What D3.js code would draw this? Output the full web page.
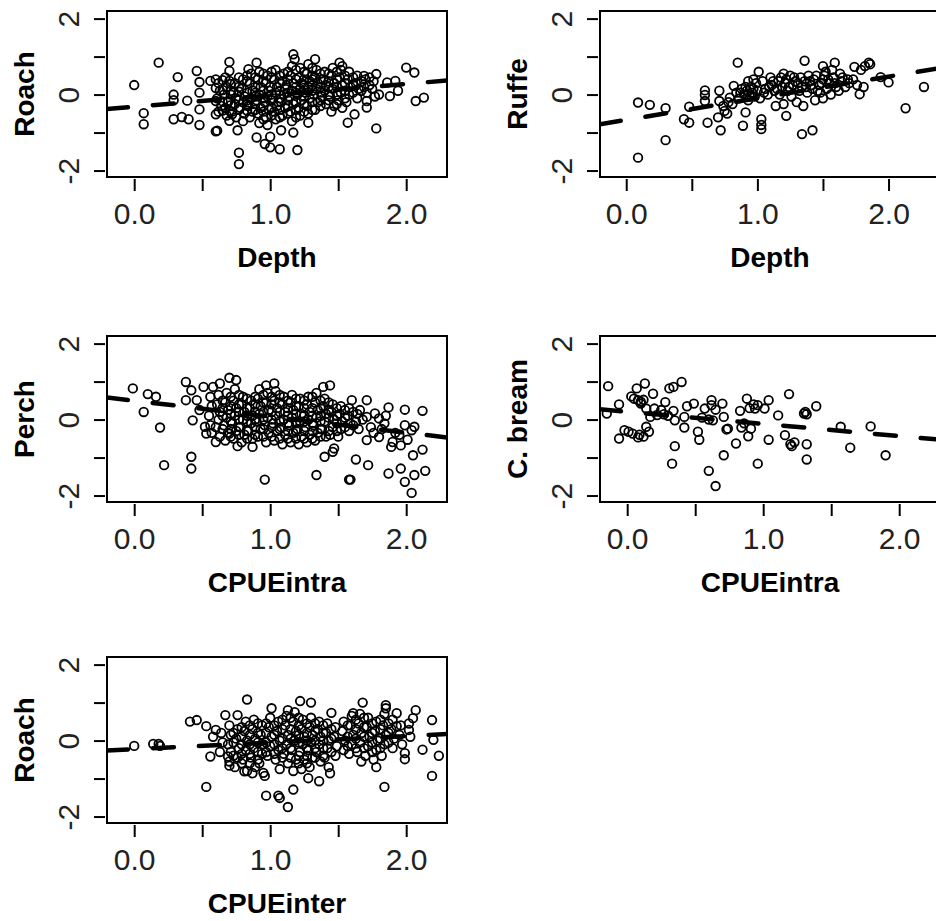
<!DOCTYPE html>
<html><head><meta charset="utf-8">
<script src="https://cdn.jsdelivr.net/npm/d3@7"></script>
<style>body{margin:0;background:#fff}</style>
</head><body><svg id="c" width="936" height="921"></svg>
<script>
// ---------- DATA ----------
const xTicks = [0, 0.5, 1, 1.5, 2];
const xTickLabels = ["0.0", "", "1.0", "", "2.0"];
const yTicks = [-2, -1, 0, 1, 2];
const yTickLabels = ["-2", "", "0", "", "2"];

const roachDepth = [
[0.0,0.25],[0.18,0.84],[0.07,-0.49],[0.07,-0.78],[0.32,0.46],[0.29,0.0],[0.29,-0.15],[0.29,-0.65],[0.35,-0.59],[0.4,-0.65],[0.39,-0.16],[0.46,0.62],[0.48,0.33],[0.48,0.05],[0.48,-0.39],[0.48,-0.8],[0.56,0.36],[0.6,0.4],[0.6,0.17],[0.6,-0.17],[0.6,-0.52],[0.6,-0.97],[0.61,-0.95],[0.7,0.86],[0.7,0.62],[0.7,0.36],[0.71,0.1],[0.69,-0.17],[0.7,-0.43],[0.7,-0.69],[0.76,-0.94],[0.77,-1.53],[0.77,-1.83],[0.84,0.67],[0.9,0.84],[0.9,-1.13],[0.96,-1.3],[1.0,-1.11],[1.0,-1.39],[1.07,-1.44],[1.08,-0.94],[1.17,-1.0],[1.2,-1.46],[1.28,-0.74],[1.17,1.06],[1.18,0.93],[1.33,0.93],[1.51,0.84],[1.53,0.75],[1.78,-0.89],[1.57,-0.74],[1.62,-0.52],[2.0,0.71],[2.06,0.58],[2.07,-0.17],[2.13,-0.08],[1.88,-0.04],[1.94,0.1],[1.92,0.36],[1.78,0.54],[1.69,0.49],[1.86,0.32],[1.71,-0.17],[1.71,-0.34],[1.8,0.0],
[0.62,0.3],[0.63,0.1],[0.61,-0.1],[0.64,-0.3],[0.62,-0.45],
[0.67,0.45],[0.68,0.2],[0.66,0.0],[0.69,-0.2],[0.67,-0.35],[0.68,-0.55],
[0.74,0.3],[0.73,0.05],[0.75,-0.1],[0.74,-0.25],[0.72,-0.45],[0.75,-0.6],
[0.8,0.4],[0.79,0.15],[0.81,-0.05],[0.8,-0.2],[0.78,-0.35],[0.81,-0.5],[0.8,-0.7],
[0.86,0.55],[0.85,0.3],[0.87,0.1],[0.86,-0.1],[0.84,-0.3],[0.87,-0.45],[0.85,-0.6],
[0.92,0.6],[0.91,0.4],[0.93,0.2],[0.92,0.0],[0.9,-0.15],[0.93,-0.35],[0.91,-0.5],[0.92,-0.75],
[0.98,0.5],[0.97,0.3],[0.99,0.1],[0.98,-0.05],[0.96,-0.2],[0.99,-0.4],[0.97,-0.6],[0.98,-0.8],
[1.04,0.65],[1.03,0.4],[1.05,0.2],[1.04,0.05],[1.02,-0.1],[1.05,-0.3],[1.03,-0.45],[1.04,-0.65],
[1.1,0.55],[1.09,0.35],[1.11,0.15],[1.1,0.0],[1.08,-0.2],[1.11,-0.35],[1.09,-0.55],
[1.16,0.75],[1.15,0.5],[1.17,0.3],[1.16,0.1],[1.14,-0.05],[1.17,-0.25],[1.15,-0.45],[1.16,-0.7],
[1.22,0.7],[1.21,0.45],[1.23,0.3],[1.22,0.15],[1.2,0.0],[1.23,-0.15],[1.21,-0.35],[1.22,-0.55],
[1.28,0.8],[1.27,0.55],[1.29,0.35],[1.28,0.2],[1.26,0.05],[1.29,-0.1],[1.27,-0.3],[1.28,-0.5],
[1.34,0.65],[1.33,0.45],[1.35,0.3],[1.34,0.15],[1.32,0.0],[1.35,-0.2],[1.33,-0.4],
[1.4,0.6],[1.39,0.4],[1.41,0.25],[1.4,0.1],[1.38,-0.05],[1.41,-0.25],
[1.46,0.7],[1.45,0.5],[1.47,0.3],[1.46,0.15],[1.44,-0.05],[1.47,-0.3],[1.45,-0.45],
[1.52,0.65],[1.51,0.45],[1.53,0.25],[1.52,0.05],[1.5,-0.15],[1.53,-0.35],
[1.58,0.6],[1.57,0.4],[1.59,0.2],[1.58,0.0],[1.56,-0.2],
[1.64,0.5],[1.63,0.3],[1.65,0.15],[1.64,-0.1],
[1.7,0.4],[1.69,0.2],[1.71,0.05],
[1.76,0.35],[1.75,0.15],[1.77,-0.05],
[1.12,0.25],[1.19,0.4],[1.25,0.25],[1.31,0.1],[1.25,-0.05],[1.19,0.05],[1.13,-0.15],[1.31,0.4],[1.37,0.2],[1.43,0.35],[1.0,0.2],[0.95,-0.1],[1.06,-0.2],[0.89,0.2],[0.83,-0.15],[0.77,0.2],[1.49,0.4],[1.37,0.55],[0.95,-0.3],[1.01,-0.35],[1.07,0.3],
[0.65,0.38],[0.65,0.12],[0.65,-0.18],[0.65,-0.42],
[0.71,0.28],[0.71,0.0],[0.71,-0.28],[0.72,-0.52],
[0.77,0.45],[0.77,0.08],[0.77,-0.15],[0.77,-0.4],
[0.83,0.35],[0.83,0.05],[0.83,-0.25],[0.83,-0.42],[0.83,0.5],
[0.89,0.45],[0.89,0.05],[0.89,-0.05],[0.89,-0.25],[0.89,-0.4],
[0.95,0.55],[0.95,0.35],[0.95,0.1],[0.95,-0.45],[0.95,-0.65],
[1.01,0.45],[1.01,0.0],[1.01,-0.15],[1.01,-0.55],[1.01,0.6],
[1.07,0.5],[1.07,0.1],[1.07,-0.1],[1.07,-0.4],[1.07,-0.6],
[1.13,0.6],[1.13,0.4],[1.13,0.05],[1.13,-0.3],[1.13,-0.5],
[1.19,0.65],[1.19,0.2],[1.19,-0.2],[1.19,-0.4],[1.19,-0.6],
[1.25,0.6],[1.25,0.4],[1.25,0.12],[1.25,-0.25],[1.25,-0.45],
[1.31,0.7],[1.31,0.5],[1.31,0.25],[1.31,-0.2],[1.31,-0.4],
[1.37,0.4],[1.37,0.05],[1.37,-0.15],[1.37,-0.3],
[1.43,0.55],[1.43,0.2],[1.43,0.0],[1.43,-0.15],
[1.49,0.6],[1.49,0.2],[1.49,0.0],[1.49,-0.25],
[1.55,0.5],[1.55,0.3],[1.55,0.1],[1.55,-0.1],
[1.61,0.45],[1.61,0.25],[1.61,0.05],
[1.67,0.35],[1.67,0.1],[1.73,0.25],[1.73,0.45]
];
const roachDepthLineX = [-0.2, 2.3];
const roachDepthLineY = [-0.38, 0.37];

const ruffeDepth = [
[0.09,-0.21],[0.18,-0.27],[0.3,-0.36],[0.3,-1.2],[0.09,-1.66],[0.44,-0.65],[0.48,-0.74],[0.48,-0.32],[0.6,0.11],[0.6,-0.01],[0.6,-0.17],[0.62,-0.74],[0.71,0.1],[0.71,-0.17],[0.7,-0.6],[0.72,-0.94],[0.75,-0.43],[0.79,-0.08],[0.81,-0.25],[0.85,0.84],[0.89,-0.82],[0.91,-0.47],[0.82,0.23],[1.03,-0.65],[1.03,-0.8],[1.03,-0.91],[1.01,0.6],[1.22,-0.56],[1.36,0.89],[1.34,-1.04],[1.42,-0.94],[1.59,0.84],[1.5,0.75],[1.74,0.73],[1.85,0.84],[1.78,0.01],[1.81,0.2],[1.94,0.46],[2.0,0.32],[2.13,-0.36],[2.27,0.2],
[0.74,-0.3],[0.77,-0.5],[0.78,-0.2],[0.84,0.05],[0.86,-0.1],[0.88,0.15],[0.9,0.0],[0.92,0.1],[0.93,-0.15],[0.95,0.2],[0.96,0.05],[0.98,-0.05],[0.99,0.3],[1.0,0.1],[1.02,-0.1],[1.04,0.35],[1.06,0.15],[1.08,0.0],[1.1,0.45],[1.11,0.25],[1.13,0.1],[1.14,-0.3],[1.16,0.35],[1.17,0.0],[1.19,0.2],[1.2,-0.25],[1.22,0.4],[1.23,0.1],[1.25,0.5],[1.26,-0.05],[1.27,0.25],[1.29,0.35],[1.3,-0.2],[1.32,0.1],[1.33,0.45],[1.35,-0.3],[1.37,0.2],[1.38,0.05],[1.4,0.35],[1.42,0.15],[1.44,-0.15],[1.45,0.5],[1.47,0.25],[1.48,0.05],[1.5,0.4],[1.52,0.6],[1.53,0.15],[1.55,0.3],[1.56,0.0],[1.58,0.45],[1.6,0.2],[1.62,0.1],[1.64,0.35],[1.67,0.2],[1.7,0.3],[1.73,0.4],[1.76,0.25],[1.79,0.65],[1.82,0.75],[1.86,0.8],[1.63,0.55],[1.57,0.65],[1.5,-0.1],[1.2,0.55],[0.97,0.4],[0.93,0.35],
[0.87,0.05],[0.91,0.2],[0.94,-0.05],[0.97,0.15],[1.05,0.05],[1.09,0.2],[1.12,0.35],[1.15,0.15],[1.18,0.45],[1.21,0.3],[1.24,0.2],[1.28,0.45],[1.31,0.3],[1.34,0.2],[1.36,0.35],[1.39,0.5],[1.41,0.25],[1.43,0.4],[1.46,0.1],[1.49,0.3],[1.51,0.5],[1.54,0.4],[1.59,0.3],[1.65,0.45],[1.69,0.4]
];
const ruffeDepthLineX = [-0.2, 2.4];
const ruffeDepthLineY = [-0.78, 0.7];

const perchCpue = [
[-0.01,0.82],[0.1,0.67],[0.16,0.6],[0.07,0.2],[0.19,-0.21],[0.22,-1.2],[0.38,0.99],[0.42,0.77],[0.38,0.51],[0.42,-0.98],[0.42,-1.29],[0.43,-0.02],[0.46,0.51],[0.51,0.86],[0.48,0.25],[0.52,-0.19],[0.53,-0.37],[0.6,-0.59],[0.58,0.86],[0.63,0.95],[0.7,1.1],[0.75,1.04],[0.7,-0.37],[0.76,-0.7],[0.87,-0.72],[0.96,-1.58],[0.97,0.9],[1.03,0.95],[1.34,-1.46],[1.4,-0.98],[1.46,-0.85],[1.47,-0.76],[1.39,0.86],[1.44,0.9],[1.58,-1.58],[1.59,-1.58],[1.63,-1.05],[1.72,-1.2],[1.6,0.51],[1.71,0.51],[1.66,0.25],[1.71,0.07],[1.71,-0.54],[1.77,0.16],[1.8,0.03],[1.8,-0.46],[1.87,0.32],[1.87,-1.42],[1.89,-0.72],[1.9,-0.59],[1.96,-0.68],[1.96,-1.29],[1.99,0.26],[1.99,-0.15],[1.99,-1.64],[2.04,-0.28],[2.05,-0.94],[2.06,-1.46],[2.04,-1.93],[2.12,0.23],[2.12,-0.79],[2.14,-1.35],[2.01,-0.53],[2.06,-0.19],
[0.56,0.6],[0.57,0.35],[0.55,0.1],[0.56,-0.15],[0.57,-0.35],
[0.62,0.65],[0.61,0.4],[0.63,0.2],[0.62,0.0],[0.6,-0.2],[0.63,-0.45],
[0.68,0.7],[0.67,0.45],[0.69,0.25],[0.68,0.05],[0.66,-0.15],[0.69,-0.35],[0.67,-0.55],
[0.74,0.8],[0.73,0.5],[0.75,0.3],[0.74,0.1],[0.72,-0.1],[0.75,-0.3],[0.73,-0.5],
[0.8,0.6],[0.79,0.4],[0.81,0.2],[0.8,0.0],[0.78,-0.2],[0.81,-0.4],[0.79,-0.6],
[0.86,0.5],[0.85,0.3],[0.87,0.1],[0.86,-0.1],[0.84,-0.3],[0.87,-0.5],
[0.92,0.8],[0.91,0.55],[0.93,0.35],[0.92,0.15],[0.9,-0.05],[0.93,-0.25],[0.91,-0.45],
[0.98,0.7],[0.97,0.45],[0.99,0.25],[0.98,0.05],[0.96,-0.15],[0.99,-0.35],[0.97,-0.6],
[1.04,0.75],[1.03,0.5],[1.05,0.3],[1.04,0.1],[1.02,-0.1],[1.05,-0.3],[1.03,-0.55],
[1.1,0.6],[1.09,0.4],[1.11,0.2],[1.1,0.0],[1.08,-0.2],[1.11,-0.4],[1.09,-0.65],
[1.16,0.65],[1.15,0.45],[1.17,0.25],[1.16,0.05],[1.14,-0.15],[1.17,-0.35],[1.15,-0.6],
[1.22,0.55],[1.21,0.35],[1.23,0.15],[1.22,-0.05],[1.2,-0.25],[1.23,-0.45],[1.21,-0.65],
[1.28,0.6],[1.27,0.4],[1.29,0.2],[1.28,0.0],[1.26,-0.2],[1.29,-0.4],[1.27,-0.6],
[1.34,0.7],[1.33,0.45],[1.35,0.25],[1.34,0.05],[1.32,-0.15],[1.35,-0.35],[1.33,-0.55],
[1.4,0.55],[1.39,0.35],[1.41,0.15],[1.4,-0.05],[1.38,-0.25],[1.41,-0.45],
[1.46,0.4],[1.45,0.2],[1.47,0.0],[1.46,-0.2],[1.44,-0.4],
[1.52,0.35],[1.51,0.15],[1.53,-0.05],[1.52,-0.25],[1.5,-0.45],
[1.58,0.3],[1.57,0.1],[1.59,-0.1],[1.58,-0.3],
[1.64,0.15],[1.63,-0.05],[1.65,-0.25],
[1.68,0.0],[1.74,-0.2],[1.76,-0.35],[1.82,-0.25],[1.85,0.1],[1.84,-0.1],[1.92,-0.35],[1.95,-0.4],
[0.83,0.1],[0.89,-0.2],[0.95,0.0],[1.01,0.2],[1.07,-0.05],[1.13,0.1],[1.19,-0.1],[1.25,0.1],[1.31,-0.1],[1.37,0.1],
[0.65,0.5],[0.65,0.3],[0.65,0.1],[0.65,-0.25],
[0.71,0.6],[0.71,0.35],[0.71,0.15],[0.71,-0.05],[0.71,-0.25],[0.71,-0.45],
[0.77,0.65],[0.77,0.4],[0.77,0.2],[0.77,0.0],[0.77,-0.2],[0.77,-0.4],
[0.83,0.55],[0.83,0.3],[0.83,-0.05],[0.83,-0.3],[0.83,-0.5],
[0.89,0.6],[0.89,0.4],[0.89,0.2],[0.89,0.0],[0.89,-0.4],
[0.95,0.65],[0.95,0.45],[0.95,0.2],[0.95,-0.25],[0.95,-0.45],
[1.01,0.6],[1.01,0.4],[1.01,0.0],[1.01,-0.2],[1.01,-0.45],
[1.07,0.65],[1.07,0.45],[1.07,0.2],[1.07,-0.25],[1.07,-0.5],
[1.13,0.5],[1.13,0.3],[1.13,-0.1],[1.13,-0.3],[1.13,-0.5],
[1.19,0.55],[1.19,0.35],[1.19,0.15],[1.19,-0.3],[1.19,-0.5],
[1.25,0.5],[1.25,0.3],[1.25,-0.05],[1.25,-0.3],[1.25,-0.5],
[1.31,0.6],[1.31,0.3],[1.31,0.1],[1.31,-0.3],[1.31,-0.5],
[1.37,0.5],[1.37,0.3],[1.37,-0.05],[1.37,-0.25],[1.37,-0.45],
[1.43,0.45],[1.43,0.25],[1.43,0.05],[1.43,-0.3],
[1.49,0.3],[1.49,0.1],[1.49,-0.1],[1.49,-0.3],
[1.55,0.25],[1.55,0.05],[1.55,-0.2],
[1.61,0.2],[1.61,-0.15]
];
const perchCpueLineX = [-0.2, 2.3];
const perchCpueLineY = [0.58, -0.47];

const breamCpue = [
[-0.14,0.88],[-0.15,0.16],[-0.06,0.4],[-0.06,-0.5],[-0.02,-0.28],[0.01,-0.32],[0.04,-0.37],[0.08,-0.47],[0.03,0.61],[0.07,0.82],[0.08,0.51],[0.1,0.42],[0.13,0.95],[0.14,0.29],[0.14,-0.19],[0.16,-0.32],[0.19,0.68],[0.17,0.07],[0.2,0.29],[0.28,0.46],[0.25,0.25],[0.31,0.82],[0.34,0.86],[0.4,0.99],[0.34,0.23],[0.35,-0.02],[0.35,-0.7],[0.33,-1.16],[0.42,-0.21],[0.42,0.07],[0.44,0.35],[0.49,0.42],[0.52,-0.32],[0.53,-0.53],[0.57,0.29],[0.6,-1.35],[0.62,0.51],[0.62,0.38],[0.65,-1.75],[0.65,0.26],[0.7,0.42],[0.71,0.07],[0.71,-0.94],[0.73,-0.26],[0.8,-0.63],[0.83,0.23],[0.84,-0.21],[0.88,0.55],[0.89,-0.44],[0.91,-0.24],[0.94,0.29],[0.96,-1.16],[0.96,0.38],[1.01,0.29],[1.04,0.51],[1.04,-0.53],[1.11,0.11],[1.16,-0.41],[1.19,0.67],[1.2,-0.65],[1.21,-0.7],[1.3,0.16],[1.32,0.14],[1.32,-0.65],[1.32,-1.05],[1.39,0.35],[1.64,-0.74],[1.57,-0.19],[1.79,-0.18],[1.9,-0.94],
[0.1,0.47],[0.12,0.52],[0.05,0.55],[0.22,0.12],[0.27,0.14],[0.3,0.1],[0.6,0.0],[0.63,-0.02],[0.55,0.05],[0.74,-0.24],[0.86,-0.1],[0.93,0.4],[0.9,0.3],[1.23,-0.6],[1.31,0.2],[0.09,-0.4],[0.12,-0.45]
];
const breamCpueLineX = [-0.2, 2.3];
const breamCpueLineY = [0.27, -0.53];

const roachInter = [
[0.0,-0.14],[0.14,-0.09],[0.18,-0.09],[0.19,-0.14],[0.41,0.5],[0.46,0.54],[0.53,0.38],[0.53,-1.22],[0.56,-0.42],[0.58,0.1],[0.6,0.28],[0.67,0.67],[0.69,-0.42],[0.7,-0.66],[0.76,0.67],[0.83,1.08],[0.81,-0.81],[0.87,-0.86],[0.97,-1.45],[0.96,-0.93],[1.01,0.85],[1.06,-1.45],[1.07,-1.51],[1.13,-1.75],[1.17,-1.29],[1.13,0.8],[1.22,1.04],[1.3,1.0],[1.45,0.73],[1.36,-1.07],[1.44,-0.86],[1.28,-0.99],[1.68,1.0],[1.61,0.72],[1.78,-0.7],[1.84,-1.22],[1.85,0.93],[1.85,0.85],[1.93,0.72],[1.93,0.38],[1.99,-0.33],[1.99,-0.49],[2.07,0.8],[2.05,0.59],[2.02,0.28],[2.19,0.54],[2.19,-0.93],[2.12,-0.24],[2.2,0.02],[2.24,-0.4],
[0.64,0.2],[0.65,-0.05],[0.63,-0.3],
[0.7,0.4],[0.71,0.15],[0.69,-0.1],[0.71,-0.3],[0.7,-0.55],
[0.76,0.3],[0.75,0.05],[0.77,-0.2],[0.76,-0.45],[0.74,-0.7],
[0.82,0.5],[0.81,0.25],[0.83,0.0],[0.82,-0.25],[0.8,-0.5],[0.83,-0.8],
[0.88,0.55],[0.87,0.3],[0.89,0.05],[0.88,-0.2],[0.86,-0.45],[0.89,-0.7],
[0.94,0.4],[0.93,0.15],[0.95,-0.1],[0.94,-0.35],[0.92,-0.6],[0.95,-0.85],
[1.0,0.6],[0.99,0.35],[1.01,0.1],[1.0,-0.15],[0.98,-0.4],
[1.06,0.5],[1.05,0.25],[1.07,0.0],[1.06,-0.25],[1.04,-0.5],[1.07,-0.75],
[1.12,0.65],[1.11,0.4],[1.13,0.15],[1.12,-0.1],[1.1,-0.35],[1.13,-0.6],
[1.18,0.75],[1.17,0.5],[1.19,0.25],[1.18,0.0],[1.16,-0.25],[1.19,-0.5],[1.17,-0.8],
[1.24,0.55],[1.23,0.3],[1.25,0.1],[1.24,-0.1],[1.22,-0.3],[1.25,-0.5],[1.23,-0.75],
[1.3,0.6],[1.29,0.35],[1.31,0.15],[1.3,-0.05],[1.28,-0.25],[1.31,-0.45],[1.29,-0.7],
[1.36,0.5],[1.35,0.3],[1.37,0.1],[1.36,-0.1],[1.34,-0.3],[1.37,-0.55],
[1.42,0.45],[1.41,0.2],[1.43,0.0],[1.42,-0.2],[1.4,-0.45],[1.43,-0.7],
[1.48,0.35],[1.47,0.1],[1.49,-0.15],[1.48,-0.4],
[1.54,0.5],[1.53,0.25],[1.55,0.0],[1.54,-0.25],
[1.6,0.65],[1.59,0.4],[1.61,0.15],[1.6,-0.1],[1.58,-0.35],
[1.66,0.7],[1.65,0.45],[1.67,0.2],[1.66,-0.05],[1.64,-0.3],[1.67,-0.55],
[1.72,0.6],[1.71,0.35],[1.73,0.1],[1.72,-0.15],[1.7,-0.4],
[1.78,0.5],[1.77,0.25],[1.79,0.0],[1.78,-0.25],[1.76,-0.5],
[1.84,0.7],[1.83,0.4],[1.85,0.15],[1.84,-0.1],[1.82,-0.4],
[1.9,0.55],[1.89,0.3],[1.91,0.05],[1.9,-0.2],
[1.96,0.4],[1.95,0.15],[1.97,-0.1],
[2.02,0.45],[2.03,0.1],
[0.73,0.2],[0.73,-0.05],[0.73,-0.4],
[0.79,0.35],[0.79,0.1],[0.79,-0.1],[0.79,-0.35],[0.79,-0.6],
[0.85,0.4],[0.85,0.15],[0.85,-0.1],[0.85,-0.35],[0.85,-0.6],
[0.91,0.45],[0.91,0.2],[0.91,-0.05],[0.91,-0.3],[0.91,-0.5],
[0.97,0.45],[0.97,0.2],[0.97,-0.05],[0.97,-0.3],
[1.03,0.4],[1.03,0.15],[1.03,-0.1],[1.03,-0.35],
[1.09,0.55],[1.09,0.3],[1.09,0.05],[1.09,-0.2],[1.09,-0.45],
[1.15,0.6],[1.15,0.3],[1.15,0.05],[1.15,-0.2],[1.15,-0.45],
[1.21,0.6],[1.21,0.4],[1.21,0.15],[1.21,-0.05],[1.21,-0.4],[1.21,-0.6],
[1.27,0.45],[1.27,0.2],[1.27,0.0],[1.27,-0.2],[1.27,-0.4],[1.27,-0.6],
[1.33,0.45],[1.33,0.25],[1.33,0.0],[1.33,-0.2],[1.33,-0.45],
[1.39,0.4],[1.39,0.2],[1.39,0.0],[1.39,-0.2],[1.39,-0.4],
[1.45,0.3],[1.45,0.05],[1.45,-0.3],
[1.57,0.4],[1.57,0.1],[1.57,-0.15],
[1.63,0.55],[1.63,0.3],[1.63,0.05],[1.63,-0.2],
[1.69,0.6],[1.69,0.35],[1.69,0.1],[1.69,-0.2],
[1.75,0.45],[1.75,0.2],[1.75,-0.05],[1.75,-0.3],
[1.81,0.55],[1.81,0.3],[1.81,0.05],[1.81,-0.2],
[1.87,0.45],[1.87,0.2],[1.87,-0.05]
];
const roachInterLineX = [-0.2, 2.3];
const roachInterLineY = [-0.26, 0.17];

// ---------- DRAWING ----------
const svg = d3.select("#c");
svg.append("rect").attr("width",936).attr("height",921).attr("fill","#fff");
const FONT = "'Liberation Sans', Arial, Helvetica, sans-serif";

const panels = [
  {id:"p1", data:roachDepth, lx:roachDepthLineX, ly:roachDepthLineY, xt:"Depth", yt:"Roach", left:107, top:11, w:340, xd:[-0.2,2.3]},
  {id:"p2", data:ruffeDepth, lx:ruffeDepthLineX, ly:ruffeDepthLineY, xt:"Depth", yt:"Ruffe", left:600, top:11, w:341, xd:[-0.2,2.4]},
  {id:"p3", data:perchCpue, lx:perchCpueLineX, ly:perchCpueLineY, xt:"CPUEintra", yt:"Perch", left:107, top:336, w:340, xd:[-0.2,2.3]},
  {id:"p4", data:breamCpue, lx:breamCpueLineX, ly:breamCpueLineY, xt:"CPUEintra", yt:"C. bream", left:600, top:336, w:340, xd:[-0.2,2.3]},
  {id:"p5", data:roachInter, lx:roachInterLineX, ly:roachInterLineY, xt:"CPUEinter", yt:"Roach", left:107, top:657, w:340, xd:[-0.2,2.3]}
];
const H = 166;
const yDomain = [-2.17, 2.2];

panels.forEach(p => {
  const x = d3.scaleLinear().domain(p.xd).range([p.left, p.left + p.w]);
  const y = d3.scaleLinear().domain(yDomain).range([p.top + H, p.top]);
  const g = svg.append("g");

  g.append("clipPath").attr("id", "clip-" + p.id)
    .append("rect").attr("x", p.left).attr("y", p.top).attr("width", p.w).attr("height", H);
  const inner = g.append("g").attr("clip-path", `url(#clip-${p.id})`);

  inner.selectAll("circle").data(p.data).join("circle")
    .attr("cx", d => x(d[0])).attr("cy", d => y(d[1])).attr("r", 4.3)
    .attr("fill", "none").attr("stroke", "#000").attr("stroke-width", 1.8);

  const line = d3.line().x(d => x(d[0])).y(d => y(d[1]));
  inner.append("path").datum(p.lx.map((v, i) => [v, p.ly[i]]))
    .attr("d", line).attr("fill", "none").attr("stroke", "#000")
    .attr("stroke-width", 4.5).attr("stroke-dasharray", "21,25").attr("stroke-linecap", "round");

  g.append("rect").attr("x", p.left).attr("y", p.top).attr("width", p.w).attr("height", H)
    .attr("fill", "none").attr("stroke", "#000").attr("stroke-width", 2);

  // x axis
  const xa = g.append("g").attr("transform", `translate(0,${p.top + H + 2})`)
    .call(d3.axisBottom(x).tickValues(xTicks).tickFormat((d, i) => xTickLabels[i]).tickSize(12).tickSizeOuter(0).tickPadding(12));
  xa.select(".domain").remove();
  xa.selectAll("line").attr("stroke", "#000").attr("stroke-width", 2);
  xa.selectAll("text").attr("font-family", FONT).attr("font-size", 30).attr("fill", "#222");

  // y axis
  const ya = g.append("g").attr("transform", `translate(${p.left - 2},0)`)
    .call(d3.axisLeft(y).tickValues(yTicks).tickFormat((d, i) => yTickLabels[i]).tickSize(11).tickSizeOuter(0));
  ya.select(".domain").remove();
  ya.selectAll("line").attr("stroke", "#000").attr("stroke-width", 2);
  ya.selectAll("text").attr("x", null).attr("dy", null).attr("text-anchor", "middle")
    .attr("transform", "translate(-26,0) rotate(-90)")
    .attr("font-family", FONT).attr("font-size", 30).attr("fill", "#222");

  // titles
  g.append("text").attr("x", p.left + 170).attr("y", p.top + H + 90)
    .attr("text-anchor", "middle").attr("font-family", FONT).attr("font-size", 28)
    .attr("font-weight", "bold").attr("fill", "#000").text(p.xt);
  g.append("text").attr("transform", `translate(${p.left - 73},${p.top + H / 2}) rotate(-90)`)
    .attr("text-anchor", "middle").attr("font-family", FONT).attr("font-size", 28)
    .attr("font-weight", "bold").attr("fill", "#000").text(p.yt);
});
</script>
</body></html>
